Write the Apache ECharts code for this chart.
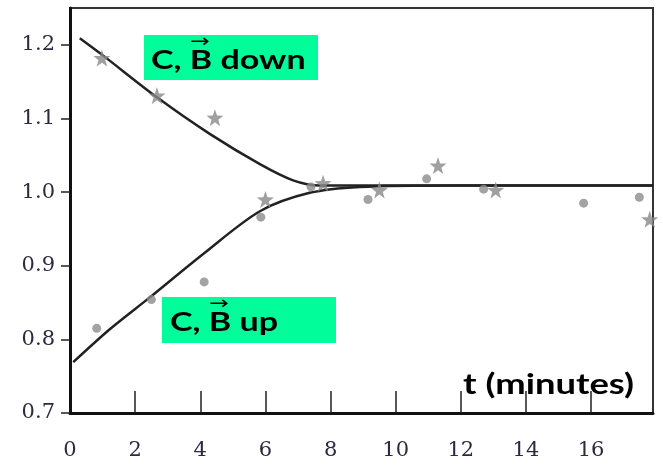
<!DOCTYPE html>
<html>
<head>
<meta charset="utf-8">
<script src="https://cdn.jsdelivr.net/npm/echarts@6/dist/echarts.min.js"></script>
<style>
  html, body { margin: 0; padding: 0; background: #fff; }
  #chart { width: 663px; height: 476px; }
</style>
</head>
<body>
<div id="chart"></div>
<script>
// measured points (t in minutes, relative value)
const starX = [0.98, 2.67, 4.45, 6.0, 7.77, 9.5, 11.3, 13.07, 17.8];
const starY = [1.182, 1.131, 1.101, 0.99, 1.012, 1.003, 1.036, 1.003, 0.963];
const dotX = [0.82, 2.5, 4.12, 5.86, 7.4, 9.15, 10.95, 12.7, 15.77, 17.48];
const dotY = [0.815, 0.854, 0.878, 0.966, 1.007, 0.990, 1.018, 1.004, 0.985, 0.993];

// fitted curves
const downX = [0.3, 1.0, 2.66, 4.29, 5.83, 6.85, 7.67, 9, 12, 17.9];
const downY = [1.209, 1.186, 1.129, 1.079, 1.038, 1.016, 1.009, 1.009, 1.009, 1.009];
const upX = [0.1, 1.23, 2.45, 4.09, 5.83, 7.36, 8.9, 12, 17.9];
const upY = [0.769, 0.814, 0.857, 0.916, 0.974, 0.999, 1.007, 1.009, 1.009];

const xTicks = [0, 2, 4, 6, 8, 10, 12, 14, 16];
const yTicks = [0.7, 0.8, 0.9, 1.0, 1.1, 1.2];

const zip = (xs, ys) => xs.map((x, i) => [x, ys[i]]);

const starPath = "path://M0,-10L2.35,-3.24L9.51,-3.09L3.8,1.24L5.88,8.09L0,4L-5.88,8.09L-3.8,1.24L-9.51,-3.09L-2.35,-3.24Z";

const labelFont = "'DejaVu Serif', 'Liberation Serif', serif";
const boldFont = "Lato, 'Open Sans', sans-serif";
const green = "#00fd9a";
const stretch = 1.31; // the source picture is widened

const chart = echarts.init(document.getElementById("chart"));

chart.setOption({
  animation: false,
  backgroundColor: "#fff",
  grid: {
    left: 70,
    right: 10,
    top: 8,
    bottom: 63,
    show: true,
    borderColor: "#333",
    borderWidth: 2,
  },
  xAxis: {
    type: "value",
    min: 0,
    max: 17.9,
    interval: 2,
    axisLine: { show: true, onZero: false, lineStyle: { color: "#111", width: 3 } },
    axisTick: {
      show: true,
      inside: true,
      length: 22,
      customValues: xTicks.slice(1),
      lineStyle: { color: "#222", width: 1.5 },
    },
    axisLabel: {
      customValues: xTicks,
      margin: 27,
      fontFamily: labelFont,
      fontSize: 21,
      color: "#2a2a40",
      formatter: (v) => String(v),
    },
    splitLine: { show: false },
  },
  yAxis: {
    type: "value",
    min: 0.7,
    max: 1.25,
    interval: 0.1,
    axisLine: { show: true, onZero: false, lineStyle: { color: "#111", width: 3 } },
    axisTick: {
      show: true,
      length: 9,
      customValues: yTicks,
      lineStyle: { color: "#222", width: 1.5 },
    },
    axisLabel: {
      customValues: yTicks,
      margin: 15,
      fontFamily: labelFont,
      fontSize: 21,
      color: "#2a2a40",
      formatter: (v) => v.toFixed(1),
    },
    splitLine: { show: false },
  },
  series: [
    {
      type: "line",
      data: zip(downX, downY),
      smooth: 0.3,
      showSymbol: false,
      lineStyle: { color: "#222", width: 2.5 },
      z: 3,
    },
    {
      type: "line",
      data: zip(upX, upY),
      smooth: 0.3,
      showSymbol: false,
      lineStyle: { color: "#222", width: 2.5 },
      z: 3,
    },
    {
      type: "scatter",
      data: zip(starX, starY),
      symbol: starPath,
      symbolSize: 17,
      itemStyle: { color: "#888" },
      z: 4,
    },
    {
      type: "scatter",
      data: zip(dotX, dotY),
      symbol: "circle",
      symbolSize: 9,
      itemStyle: { color: "#8c8c8c" },
      z: 4,
    },
  ],
  graphic: [
    {
      type: "rect",
      shape: { x: 144, y: 35, width: 174, height: 45 },
      style: { fill: green },
      z: 10,
    },
    {
      type: "text",
      x: 151,
      y: 61,
      scaleX: stretch,
      style: {
        text: "C, B down",
        font: "bold 26px " + boldFont,
        fill: "#000",
        verticalAlign: "middle",
      },
      z: 11,
    },
    {
      type: "text",
      x: 200,
      y: 42,
      scaleX: stretch,
      style: {
        text: "\u2192",
        font: "18px 'DejaVu Sans'",
        fill: "#000",
        align: "center",
        verticalAlign: "middle",
      },
      z: 11,
    },
    {
      type: "rect",
      shape: { x: 162, y: 297, width: 174, height: 46 },
      style: { fill: green },
      z: 10,
    },
    {
      type: "text",
      x: 170,
      y: 323,
      scaleX: stretch,
      style: {
        text: "C, B up",
        font: "bold 26px " + boldFont,
        fill: "#000",
        verticalAlign: "middle",
      },
      z: 11,
    },
    {
      type: "text",
      x: 219,
      y: 304,
      scaleX: stretch,
      style: {
        text: "\u2192",
        font: "18px 'DejaVu Sans'",
        fill: "#000",
        align: "center",
        verticalAlign: "middle",
      },
      z: 11,
    },
    {
      type: "text",
      x: 463,
      y: 385,
      scaleX: 1.3,
      style: {
        text: "t (minutes)",
        font: "bold 28px " + boldFont,
        fill: "#000",
        verticalAlign: "middle",
      },
      z: 11,
    },
  ],
});
</script>
</body>
</html>
